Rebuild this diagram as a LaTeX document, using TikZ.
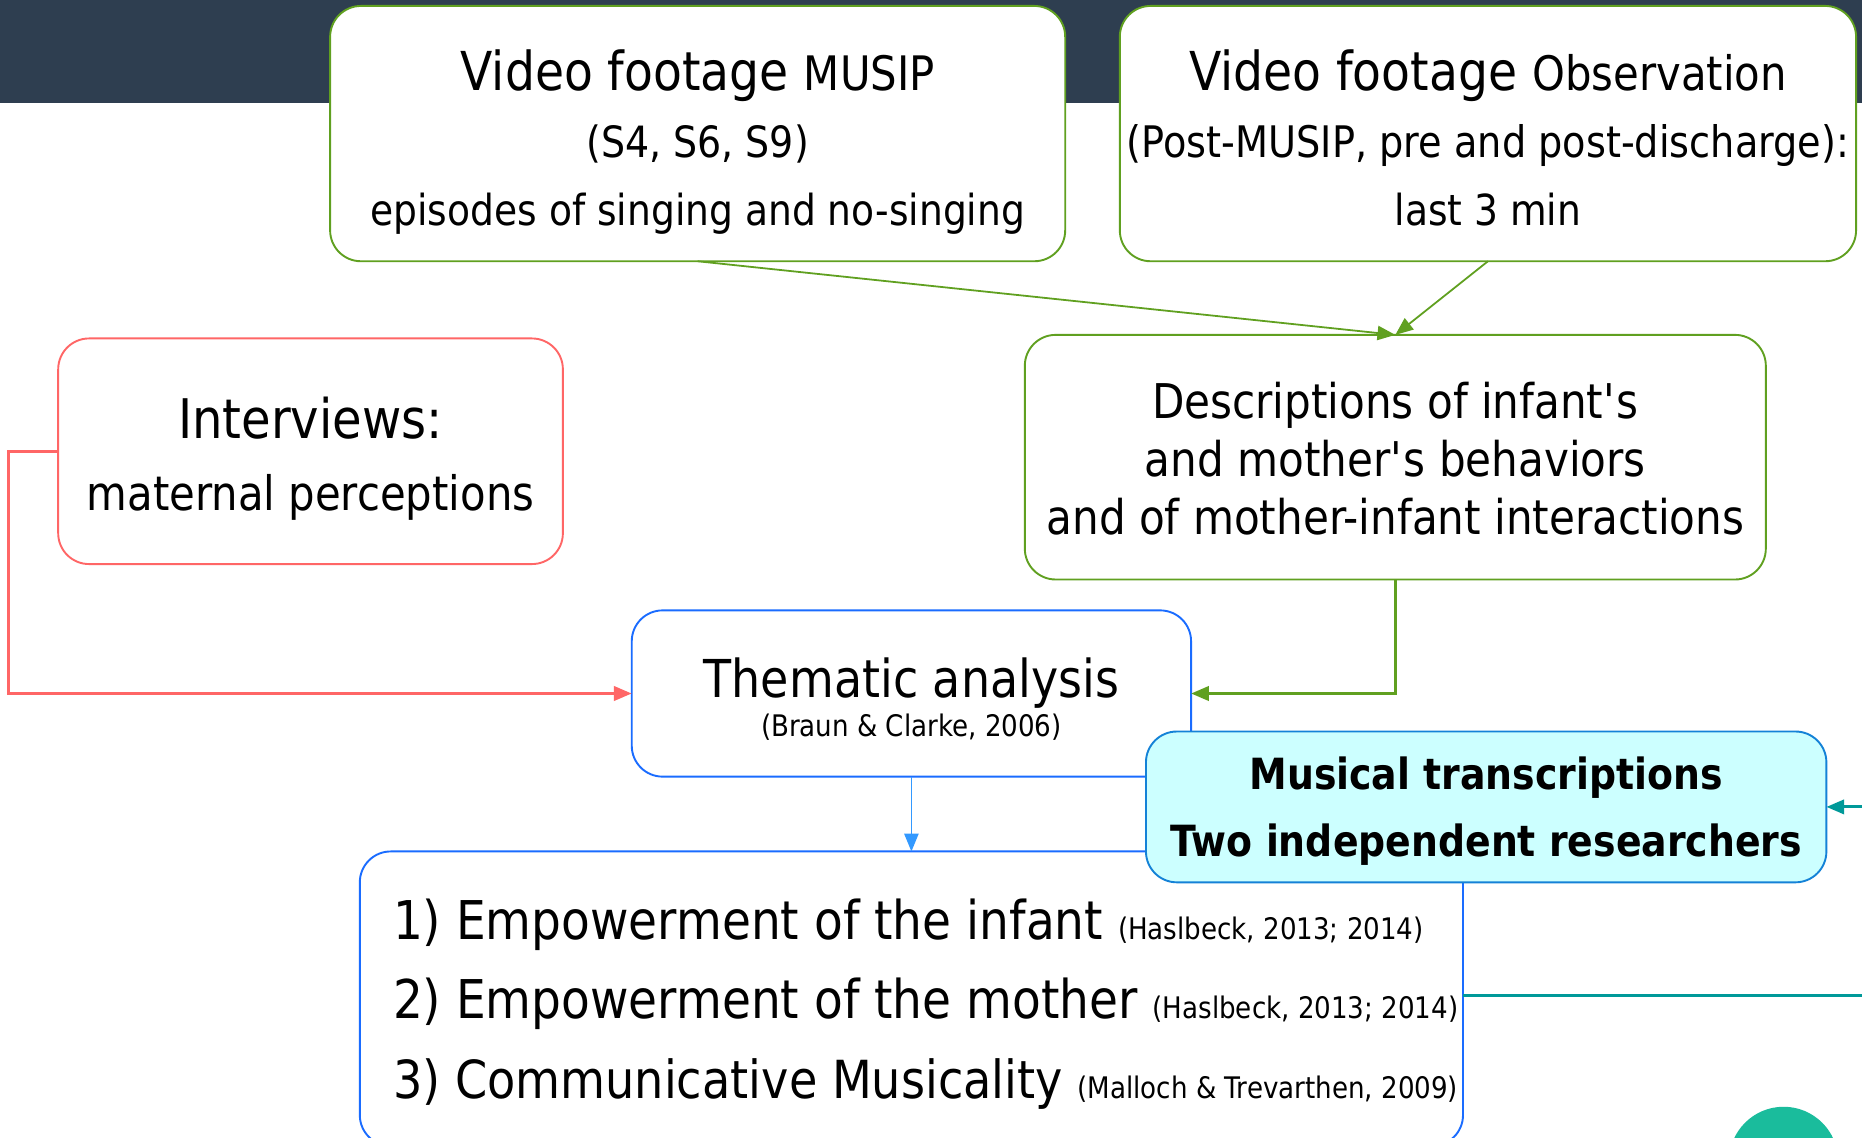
\documentclass[tikz,border=0pt]{standalone}
\usepackage{fontspec}
\setmainfont{DejaVu Sans}[FakeStretch=0.88]
\usetikzlibrary{arrows.meta}
\definecolor{barc}{RGB}{46,62,80}
\definecolor{grn}{RGB}{96,160,32}
\definecolor{redc}{RGB}{255,102,102}
\definecolor{bluc}{RGB}{26,108,255}
\definecolor{bluarrow}{RGB}{51,153,255}
\definecolor{mtfill}{RGB}{204,255,255}
\definecolor{mtdraw}{RGB}{20,130,215}
\definecolor{tealc}{RGB}{0,153,153}
\definecolor{circc}{RGB}{26,188,156}
\newcommand{\myfs}[1]{\fontsize{#1}{#1}\selectfont}
\tikzset{
  bx/.style={rectangle, rounded corners=26pt, line width=1.6pt, fill=white, inner sep=0pt, outer sep=0pt},
  gbox/.style={bx, draw=grn},
  rbox/.style={bx, draw=redc},
  bbox/.style={bx, draw=bluc},
  mtbox/.style={bx, draw=mtdraw, fill=mtfill},
  txt/.style={inner sep=0pt, outer sep=0pt, anchor=base},
  ltxt/.style={inner sep=0pt, outer sep=0pt, anchor=base west},
  tip/.style={-{Triangle[length=15pt,width=12pt]}},
  thin/.style={line width=1.5pt},
  thick/.style={line width=2.6pt},
}
\begin{document}
\begin{tikzpicture}[x=1pt,y=-1pt]
\useasboundingbox (0,0) rectangle (1568,958);
\fill[white] (0,0) rectangle (1568,958);
\fill[barc] (0,0) rectangle (1568,87);
\fill[circc] (1502,978) circle (46);

% boxes
\node[gbox, minimum width=619pt, minimum height=215pt] (vm) at (587.5,112.5) {};
\node[gbox, minimum width=620pt, minimum height=215pt] (vo) at (1253,112.5) {};
\node[rbox, minimum width=425pt, minimum height=190pt] (iv) at (261.5,380) {};
\node[gbox, minimum width=624pt, minimum height=206pt] (ds) at (1175,385) {};
\node[bbox, minimum width=471pt, minimum height=140pt] (ta) at (767.5,584) {};
\node[bbox, minimum width=929pt, minimum height=248pt] (rs) at (767.5,841) {};

% texts
\node[txt] (vm1) at (587.5,76) {\myfs{45.2}Video footage \myfs{40}MUSIP};
\node[txt] (vm2) at (587.5,133) {\myfs{36.3}(S4, S6, S9)};
\node[txt] (vm3) at (587.5,190) {\myfs{36}episodes of singing and no-singing};

\node[txt] (vo1) at (1253,76) {\myfs{45.2}Video footage \myfs{40}Observation};
\node[txt] (vo2) at (1253,133) {\myfs{36.6}(Post-MUSIP, pre and post-discharge):};
\node[txt] (vo3) at (1253,190) {\myfs{36}last 3 min};

\node[txt] (iv1) at (261.5,369) {\myfs{46}Interviews:};
\node[txt] (iv2) at (261.5,430) {\myfs{40}maternal perceptions};

\node[txt] (ds1) at (1175,352) {\myfs{40.3}Descriptions of infant\textquotesingle s};
\node[txt] (ds2) at (1175,401) {\myfs{40.3}and mother\textquotesingle s behaviors};
\node[txt] (ds3) at (1175,450) {\myfs{40.3}and of mother-infant interactions};

\node[txt] (ta1) at (767.5,587) {\myfs{44}Thematic analysis};
\node[txt] (ta2) at (767.5,620) {\myfs{25}(Braun \& Clarke, 2006)};

\node[ltxt] (rs1) at (331,791) {\myfs{45}1) Empowerment of the infant \myfs{25}(Haslbeck, 2013; 2014)};
\node[ltxt] (rs2) at (331,858) {\myfs{45}2) Empowerment of the mother \myfs{25}(Haslbeck, 2013; 2014)};
\node[ltxt] (rs3) at (331,925) {\myfs{44.2}3) Communicative Musicality \myfs{25}(Malloch \& Trevarthen, 2009)};

% connectors
\draw[grn, thin, tip] (vm.south) -- (ds.north);
\draw[grn, thin, tip] (vo.south) -- (ds.north);
\draw[grn, thick, tip] (ds.south) |- (ta.east);
\draw[redc, thick, tip] (iv.west) -- ++(-42,0) |- (ta.west);
\draw[bluarrow, thin, tip] (ta.south) -- (rs.north);

% musical transcriptions box (drawn over the boxes it overlaps)
\node[mtbox, minimum width=573pt, minimum height=127pt] (mt) at (1251.5,679.5) {};
\node[txt] (mt1) at (1251.5,665) {\myfs{36.2}\bfseries Musical transcriptions};
\node[txt] (mt2) at (1251.5,721.5) {\myfs{36.2}\bfseries Two independent researchers};
\draw[tealc, thick, tip] (rs.east) ++(0,-3) -- ++(380,0) |- (mt.east);
\end{tikzpicture}
\end{document}
